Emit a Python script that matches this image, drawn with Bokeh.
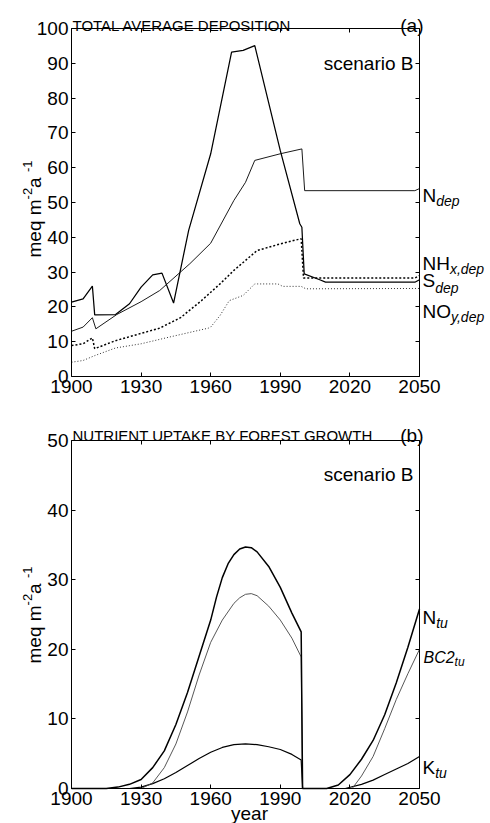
import math
from bokeh.plotting import figure
from bokeh.models import Range1d, LinearAxis, FixedTicker, Label, CustomJSTickFormatter
from bokeh.layouts import column
from bokeh.embed import file_html
from bokeh.resources import INLINE

# ---------------- data: panel (a) total average deposition ----------------
s_years = [1900, 1905, 1909, 1910, 1919, 1925, 1930, 1935, 1939, 1944, 1950.5, 1960,
           1969, 1974, 1979, 1990, 1998.4, 1999.3, 2000.3, 2007, 2009.5, 2048, 2050]
s_dep = [21.4, 22.3, 26.0, 17.7, 17.8, 20.9, 25.7, 29.2, 29.7, 21.1, 42.0, 64.0,
         93.2, 93.7, 95.1, 64.9, 43.9, 42.9, 29.5, 27.8, 27.1, 27.1, 27.8]

n_years = [1900, 1905, 1909, 1910.5, 1919.5, 1930, 1938, 1951, 1960, 1970, 1975, 1979,
           1990, 1999.3, 2000.5, 2048, 2050]
n_dep = [13.0, 14.2, 16.9, 13.7, 17.8, 21.5, 24.7, 32.4, 38.3, 50.6, 55.8, 62.1,
         64.0, 65.4, 53.4, 53.4, 54.0]

nhx_years = [1900, 1905, 1909, 1910, 1919, 1938, 1947, 1956, 1964, 1970, 1980, 1990,
             1999, 2000, 2048, 2050]
nhx_dep = [8.9, 9.4, 11.1, 8.0, 10.3, 13.9, 16.9, 21.8, 26.6, 30.5, 36.2, 38.1,
           39.6, 28.3, 28.3, 29.0]

noy_years = [1900, 1905, 1910, 1919, 1930, 1942, 1959, 1960, 1964, 1968, 1974, 1979,
             1989, 1991, 1999, 2001, 2050]
noy_dep = [4.1, 4.6, 6.0, 8.2, 9.4, 11.3, 13.9, 14.2, 17.5, 21.8, 23.3, 26.6,
           26.6, 25.9, 25.9, 25.2, 25.3]

# ---------------- data: panel (b) nutrient uptake by forest growth ----------------
ntu_years = [1900, 1910, 1915, 1920, 1925, 1930, 1935, 1940, 1945, 1950, 1955, 1960,
             1962.5, 1965, 1967.5, 1970, 1972.5, 1975, 1977.5, 1980, 1985, 1990, 1995,
             1999, 1999.6, 2010, 2015, 2020, 2025, 2030, 2035, 2040, 2045, 2050]
n_tu = [0, 0, 0, 0.2, 0.6, 1.3, 3.0, 5.4, 9.2, 13.8, 19.0, 24.2,
        27.5, 30.3, 32.3, 33.6, 34.4, 34.7, 34.6, 34.0, 31.9, 28.9, 25.2,
        22.5, 0, 0, 0.5, 2.0, 4.2, 6.9, 10.6, 15.2, 20.3, 25.8]

bc_years = [1900, 1930, 1935, 1940, 1945, 1950, 1955, 1960, 1965, 1970, 1972.5, 1975,
            1977.5, 1980, 1985, 1990, 1995, 1999, 1999.6, 2021, 2025, 2030, 2035, 2040,
            2045, 2050]
bc2_tu = [0, 0, 0.8, 3.0, 6.4, 11.0, 16.3, 21.0, 24.2, 26.6, 27.4, 27.9,
          28.0, 27.7, 26.2, 24.2, 21.6, 18.9, 0, 0, 1.8, 4.6, 8.6, 12.8,
          16.5, 20.0]

k_years = [1900, 1925, 1930, 1935, 1940, 1945, 1950, 1955, 1960, 1965, 1970, 1975,
           1980, 1985, 1990, 1995, 1999, 1999.6, 2018, 2025, 2030, 2035, 2040, 2045, 2050]
k_tu = [0, 0, 0.2, 0.7, 1.4, 2.3, 3.3, 4.3, 5.2, 5.9, 6.3, 6.4,
        6.3, 6.0, 5.6, 4.9, 4.1, 0, 0, 0.6, 1.2, 2.0, 2.8, 3.6, 4.6]

x_ticks = [1900, 1930, 1960, 1990, 2020, 2050]
ya_ticks = list(range(0, 101, 10))
yb_ticks = list(range(0, 51, 10))

FONT = "Liberation Sans"

# layout geometry (page pixels): axes box from x=71 to 419
PX_L, PX_R = 71.0, 419.0
XPP = 150.0 / (PX_R - PX_L)          # years per pixel
X0, X1 = 1900 - PX_L * XPP, 2050 + (490 - PX_R) * XPP


def X(px):
    return 1900 + (px - PX_L) * XPP


def Ya(py):
    return (376 - py) * 100.0 / 348.0


def Yb(py):
    return (788 - py) * 50.0 / 348.0


def make_fig(height, ymax, yfun, ytop_px, ybot_px, yticks):
    p = figure(width=490, height=height, x_range=Range1d(X0, X1),
               y_range=Range1d(yfun(ybot_px), yfun(ytop_px)),
               output_backend="svg", toolbar_location=None,
               x_axis_location=None, y_axis_location=None,
               min_border_left=0, min_border_right=0, min_border_top=0, min_border_bottom=0)
    p.title.visible = False
    p.xgrid.visible = False
    p.ygrid.visible = False
    p.outline_line_color = None
    p.background_fill_color = "white"
    p.border_fill_color = "white"
    blank = CustomJSTickFormatter(code="return ''")

    def axis(side, ticks, loc, bounds, labels):
        ax = LinearAxis(ticker=FixedTicker(ticks=ticks), fixed_location=loc, bounds=bounds,
                        major_tick_in=4, major_tick_out=0, minor_tick_in=0, minor_tick_out=0,
                        axis_line_color="black", axis_line_width=1,
                        major_tick_line_color="black",
                        major_label_text_font=FONT, major_label_text_font_size="19px",
                        major_label_text_color="black")
        if labels:
            ax.major_label_standoff = 3
        else:
            ax.formatter = blank
            ax.major_label_standoff = 0
        p.add_layout(ax, side)

    axis("below", x_ticks, 0, (1900, 2050), True)
    axis("left", yticks, 1900, (0, ymax), True)
    axis("above", x_ticks, ymax, (1900, 2050), False)
    axis("right", yticks, 2050, (0, ymax), False)
    return p


def lab(p, x, y, text, size=19, align="left", style="normal", angle=0.0):
    p.add_layout(Label(x=x, y=y, text=text, text_font=FONT, text_font_size=f"{size}px",
                       text_align=align, text_baseline="alphabetic", text_color="black",
                       text_font_style=style, angle=angle))


def ylabel(p, yfun, bottom_py):
    a = math.pi / 2
    base, sup = X(33.5), X(26.5)
    y0 = bottom_py
    lab(p, base, yfun(y0), "meq m", 19, angle=a)
    y1 = y0 - 3.056 * 19
    lab(p, sup, yfun(y1), "-2", 13, angle=a)
    y2 = y1 - 0.889 * 13
    lab(p, base, yfun(y2), " a", 19, angle=a)
    y3 = y2 - 0.834 * 19
    lab(p, sup, yfun(y3), "-1", 13, angle=a)


# ---------------- panel (a): page y 0..410 ----------------
pa = make_fig(410, 100, Ya, 0, 410, ya_ticks)
pa.line(noy_years, noy_dep, line_color="#333333", line_width=1, line_dash="1 2")
pa.line(nhx_years, nhx_dep, line_color="black", line_width=1.5, line_dash="2 2")
pa.line(n_years, n_dep, line_color="black", line_width=0.9)
pa.line(s_years, s_dep, line_color="black", line_width=1.25)

lab(pa, X(72), Ya(25), "TOTAL AVERAGE DEPOSITION", 15)
lab(pa, X(423), Ya(25), "(a)", 19, align="right")
lab(pa, X(413), Ya(63), "scenario B", 19, align="right")
lab(pa, X(422), Ya(195), "N", 19)
lab(pa, X(422 + 13.7), Ya(200), "dep", 14, style="italic")
lab(pa, X(422), Ya(263), "NH", 19)
lab(pa, X(422 + 27.4), Ya(268), "x,dep", 14, style="italic")
lab(pa, X(422), Ya(280), "S", 19)
lab(pa, X(422 + 12.7), Ya(287), "dep", 14, style="italic")
lab(pa, X(422), Ya(311), "NO", 19)
lab(pa, X(422 + 28.5), Ya(316), "y,dep", 14, style="italic")
ylabel(pa, Ya, 257)

# ---------------- panel (b): page y 410..823 ----------------
pb = make_fig(413, 50, Yb, 410, 823, yb_ticks)
pb.line(k_years, k_tu, line_color="black", line_width=1.2)
pb.line(bc_years, bc2_tu, line_color="#444444", line_width=0.9)
pb.line(ntu_years, n_tu, line_color="black", line_width=1.5)

lab(pb, X(72), Yb(435), "NUTRIENT UPTAKE BY FOREST GROWTH", 15)
lab(pb, X(423), Yb(435), "(b)", 19, align="right")
lab(pb, X(413), Yb(474), "scenario B", 19, align="right")
lab(pb, X(422), Yb(617), "N", 19)
lab(pb, X(422 + 13.7), Yb(622), "tu", 14, style="italic")
lab(pb, X(423), Yb(657), "BC2", 16, style="italic")
lab(pb, X(423 + 31.1), Yb(661), "tu", 12, style="italic")
lab(pb, X(422), Yb(767), "K", 19)
lab(pb, X(422 + 12.7), Yb(772), "tu", 14, style="italic")
lab(pb, X(249), Yb(813), "year", 19, align="center")
ylabel(pb, Yb, 663)

layout = column(pa, pb, spacing=0)
open("out.html", "w").write(file_html(layout, INLINE))
